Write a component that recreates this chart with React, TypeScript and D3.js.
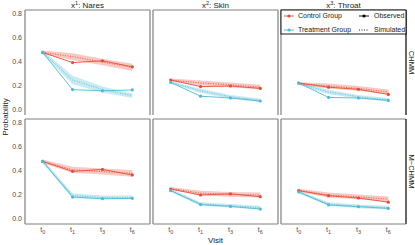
import * as d3 from "d3"

const visits = ["0", "1", "3", "6"]
const sites = ["Nares", "Skin", "Throat"]
const models = ["CHMM", "M\u2212CHMM"]
const yTicks = [0, 0.2, 0.4, 0.6, 0.8]

// rows: CHMM, M-CHMM ; inner: Nares, Skin, Throat
const controlObs = [
  [[0.48, 0.395, 0.41, 0.36], [0.25, 0.195, 0.2, 0.18], [0.225, 0.19, 0.172, 0.13]],
  [[0.48, 0.397, 0.413, 0.367], [0.25, 0.2, 0.21, 0.186], [0.236, 0.194, 0.175, 0.14]],
]
const treatObs = [
  [[0.48, 0.17, 0.16, 0.167], [0.23, 0.115, 0.1, 0.075], [0.225, 0.105, 0.1, 0.08]],
  [[0.48, 0.183, 0.169, 0.172], [0.236, 0.12, 0.105, 0.083], [0.225, 0.117, 0.103, 0.088]],
]
const controlSim = [
  [[0.48, 0.445, 0.4, 0.355], [0.25, 0.225, 0.21, 0.19], [0.22, 0.2, 0.18, 0.15]],
  [[0.48, 0.41, 0.395, 0.38], [0.255, 0.215, 0.205, 0.2], [0.24, 0.2, 0.185, 0.165]],
]
const treatSim = [
  [[0.48, 0.25, 0.17, 0.12], [0.23, 0.16, 0.11, 0.08], [0.22, 0.15, 0.11, 0.085]],
  [[0.48, 0.195, 0.18, 0.18], [0.24, 0.125, 0.11, 0.095], [0.225, 0.125, 0.105, 0.095]],
]
// half-width of the simulated band
const controlBand = [
  [[0.015, 0.028, 0.028, 0.03], [0.012, 0.02, 0.02, 0.02], [0.012, 0.02, 0.02, 0.02]],
  [[0.015, 0.025, 0.025, 0.028], [0.012, 0.02, 0.02, 0.02], [0.012, 0.02, 0.02, 0.022]],
]
const treatBand = [
  [[0.015, 0.035, 0.025, 0.02], [0.012, 0.018, 0.015, 0.015], [0.012, 0.018, 0.015, 0.015]],
  [[0.015, 0.02, 0.015, 0.015], [0.012, 0.015, 0.015, 0.015], [0.012, 0.015, 0.015, 0.015]],
]

const RED = "#E64B35"
const BLUE = "#4DBBD5"
const FONT = "Liberation Sans, Arial, sans-serif"

const left = 25
const panelW = 125
const gapX = 3
const rowTops = [10, 119]
const panelH = 105

function Sub({ base, sub }: { base: string; sub: string }) {
  return (
    <>
      {base}
      <tspan dy={2} fontSize={5.5}>
        {sub}
      </tspan>
    </>
  )
}

function Panel({ r, c }: { r: number; c: number }) {
  const x0 = left + c * (panelW + gapX)
  const top = rowTops[r]
  const x = d3.scalePoint<string>().domain(visits).range([x0 + 17.7, x0 + 107.3])
  const y = d3.scaleLinear().domain([0, 0.8]).range([top + 100, top + 4])
  const line = d3
    .line<number>()
    .x((_, i) => x(visits[i])!)
    .y((d) => y(d))
  const area = (mean: number[], band: number[]) =>
    d3
      .area<number>()
      .x((_, i) => x(visits[i])!)
      .y0((d, i) => y(d - band[i]))
      .y1((d, i) => y(d + band[i]))(mean)!

  const groups = [
    { obs: controlObs[r][c], sim: controlSim[r][c], band: controlBand[r][c], color: RED },
    { obs: treatObs[r][c], sim: treatSim[r][c], band: treatBand[r][c], color: BLUE },
  ]
  const bottom = top + panelH
  return (
    <g>
      {groups.map((g, i) => (
        <path key={"a" + i} d={area(g.sim, g.band)} fill={g.color} opacity={0.3} />
      ))}
      {groups.map((g, i) => (
        <path
          key={"s" + i}
          d={line(g.sim)!}
          fill="none"
          stroke={g.color}
          strokeWidth={0.9}
          strokeDasharray="1,1.5"
        />
      ))}
      {groups.map((g, i) => (
        <g key={"o" + i}>
          <path d={line(g.obs)!} fill="none" stroke={g.color} strokeWidth={0.9} />
          {g.obs.map((v, j) => (
            <circle key={j} cx={x(visits[j])} cy={y(v)} r={1.6} fill={g.color} />
          ))}
        </g>
      ))}
      {/* borders */}
      <line x1={x0} x2={x0 + panelW} y1={top} y2={top} stroke="#7f7f7f" strokeWidth={1.2} />
      <line x1={x0} x2={x0} y1={top} y2={bottom} stroke="#7f7f7f" strokeWidth={1.2} />
      <line
        x1={x0 + panelW}
        x2={x0 + panelW}
        y1={top}
        y2={bottom}
        stroke={c === 2 ? "#000" : "#7f7f7f"}
        strokeWidth={1.2}
      />
      {r === 1 && (
        <line x1={x0} x2={x0 + panelW} y1={bottom} y2={bottom} stroke="#7f7f7f" strokeWidth={1.2} />
      )}
      {c === 0 &&
        yTicks.map((t) => (
          <text
            key={t}
            x={x0 - 3}
            y={y(t)}
            dy="0.35em"
            textAnchor="end"
            fontSize={7}
            fill="#4d4d4d"
          >
            {t.toFixed(1)}
          </text>
        ))}
      {r === 1 &&
        visits.map((v) => (
          <text key={v} x={x(v)} y={bottom + 8} textAnchor="middle" fontSize={7} fill="#4d4d4d">
            <Sub base="t" sub={v} />
          </text>
        ))}
      {r === 0 && (
        <text x={x0 + panelW / 2} y={top - 2} textAnchor="middle" fontSize={8} fill="#1a1a1a">
          <tspan>x</tspan>
          <tspan dy={-3.5} fontSize={5.5}>
            {c + 1}
          </tspan>
          <tspan dy={3.5}>: {sites[c]}</tspan>
        </text>
      )}
      {c === 2 && (
        <text
          transform={`translate(${x0 + panelW + 2.5},${top + panelH / 2}) rotate(90)`}
          textAnchor="middle"
          fontSize={7.5}
          fill="#1a1a1a"
        >
          {models[r]}
        </text>
      )}
    </g>
  )
}

function Legend() {
  const lx = left + 2 * (panelW + gapX)
  const ly = 10
  const rows = [ly + 6, ly + 20]
  return (
    <g fontSize={7} fill="#1a1a1a">
      <rect x={lx} y={ly} width={panelW} height={24} fill="#fff" stroke="#000" strokeWidth={0.9} />
      {[
        { label: "Control Group", color: RED },
        { label: "Treatment Group", color: BLUE },
      ].map((e, i) => (
        <g key={e.label}>
          <line x1={lx + 3} x2={lx + 13} y1={rows[i]} y2={rows[i]} stroke={e.color} strokeWidth={0.9} />
          <circle cx={lx + 8} cy={rows[i]} r={1.6} fill={e.color} />
          <text x={lx + 17} y={rows[i]} dy="0.35em">
            {e.label}
          </text>
        </g>
      ))}
      <line x1={lx + 78} x2={lx + 88} y1={rows[0]} y2={rows[0]} stroke="#000" strokeWidth={0.9} />
      <circle cx={lx + 83} cy={rows[0]} r={1.6} fill="#000" />
      <text x={lx + 93} y={rows[0]} dy="0.35em">
        Observed
      </text>
      <line
        x1={lx + 78}
        x2={lx + 88}
        y1={rows[1]}
        y2={rows[1]}
        stroke="#000"
        strokeWidth={0.9}
        strokeDasharray="1,1.5"
      />
      <text x={lx + 93} y={rows[1]} dy="0.35em">
        Simulated
      </text>
    </g>
  )
}

export default function App() {
  const plotMid = left + (3 * panelW + 2 * gapX) / 2
  return (
    <svg
      width={415}
      height={245}
      style={{ position: "absolute", left: 0, top: 0, background: "#fff" }}
      fontFamily={FONT}
    >
      {[0, 1].map((r) => [0, 1, 2].map((c) => <Panel key={`${r}-${c}`} r={r} c={c} />))}
      <Legend />
      <text
        transform={`translate(8,${(rowTops[0] + rowTops[1] + panelH) / 2}) rotate(-90)`}
        textAnchor="middle"
        fontSize={8}
        fill="#1a1a1a"
      >
        Probability
      </text>
      <text x={plotMid} y={243} textAnchor="middle" fontSize={8} fill="#1a1a1a">
        Visit
      </text>
    </svg>
  )
}
